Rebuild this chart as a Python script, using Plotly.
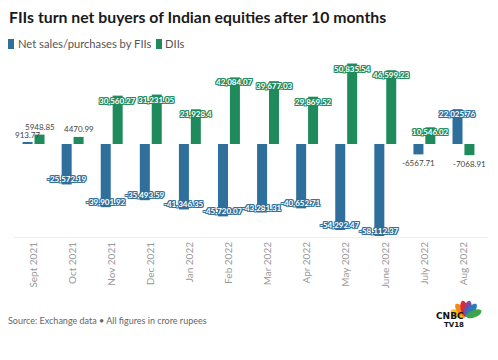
import plotly.graph_objects as go
import numpy as np

months = ["Sept 2021", "Oct 2021", "Nov 2021", "Dec 2021", "Jan 2022", "Feb 2022",
          "Mar 2022", "Apr 2022", "May 2022", "June 2022", "July 2022", "Aug 2022"]
fii = [913.77, -25572.19, -39901.92, -35493.59, -41346.35, -45720.07,
       -43281.31, -40652.71, -54292.47, -58112.37, -6567.71, 22025.76]
dii = [5948.85, 4470.99, 30560.27, 31231.05, 21928.4, 42084.07,
       39677.03, 29869.52, 50835.54, 46599.23, 10546.02, -7068.91]

BLUE = "#2f6f9c"
GREEN = "#1f8b5c"
FONT = "Lato"

W, H = 498, 360
ML, MR, MT, MB = 13, 10, 60, 123
BARGAP, GROUPGAP = 0.39, 0.16
plot_w = W - ML - MR
plot_h = H - MT - MB
slot = plot_w / len(months) * (1 - BARGAP) / 2

fig = go.Figure()
fig.add_bar(x=months, y=fii, name="Net sales/purchases by FIIs", marker_color=BLUE,
            marker_line_width=0, showlegend=False, hoverinfo="skip")
fig.add_bar(x=months, y=dii, name="DIIs", marker_color=GREEN,
            marker_line_width=0, showlegend=False, hoverinfo="skip")


def fmt(v):
    if abs(v) >= 10000:
        s = f"{v:,.2f}".rstrip("0").rstrip(".")
        return s
    return f"{v:.2f}"


def outline(c):
    return ", ".join(f"{dx}px {dy}px 0 {c}" for dx in (-1, 0, 1) for dy in (-1, 0, 1) if dx or dy)


annotations = []
for series, color, shift in ((fii, BLUE, -slot / 2), (dii, GREEN, slot / 2)):
    for m, v in zip(months, series):
        if abs(v) >= 10000:
            annotations.append(dict(
                x=m, y=v, xref="x", yref="y", text=fmt(v), showarrow=False,
                xshift=shift, yshift=-5 if v > 0 else 5, yanchor="middle",
                font=dict(family=FONT, size=8, color="white", weight="bold",
                          shadow=outline(color))))
        else:
            annotations.append(dict(
                x=m, y=v, xref="x", yref="y", text=fmt(v), showarrow=False,
                xshift=shift, yshift=1 if v > 0 else -2,
                yanchor="bottom" if v > 0 else "top",
                font=dict(family=FONT, size=8, color="#444444")))


# convert absolute pixel to paper coords (paper = plot area)
def px(xp):
    return (xp - ML) / plot_w


def py(yp):
    return (H - MB - yp) / plot_h


annotations += [
    dict(x=px(7), y=py(16), xref="paper", yref="paper", text="<b>FIIs turn net buyers of Indian equities after 10 months</b>",
         showarrow=False, xanchor="left", yanchor="middle", font=dict(family=FONT, size=15.8, color="#1a1a1a")),
    dict(x=px(16), y=py(44), xref="paper", yref="paper", text="Net sales/purchases by FIIs",
         showarrow=False, xanchor="left", yanchor="middle", font=dict(family=FONT, size=11.2, color="#555555")),
    dict(x=px(163), y=py(44), xref="paper", yref="paper", text="DIIs",
         showarrow=False, xanchor="left", yanchor="middle", font=dict(family=FONT, size=11.2, color="#555555")),
    dict(x=px(6), y=py(320), xref="paper", yref="paper", text="Source: Exchange data • All figures in crore rupees",
         showarrow=False, xanchor="left", yanchor="middle", font=dict(family=FONT, size=9, color="#666666")),
]

shapes = [
    dict(type="rect", xref="paper", yref="paper", x0=px(8), x1=px(14), y0=py(49), y1=py(39),
         fillcolor=BLUE, line_width=0),
    dict(type="rect", xref="paper", yref="paper", x0=px(156), x1=px(162), y0=py(49), y1=py(39),
         fillcolor=GREEN, line_width=0),
]

# CNBC TV18 logo (peacock)
petal_colors = ["#f7c21b", "#f28a1c", "#e3262f", "#7b4a9e", "#2a78c2", "#3aa54a"]
angles = [158, 128, 102, 78, 52, 22]
t = np.linspace(0, 2 * np.pi, 24)
for col, ang in zip(petal_colors, angles):
    a = np.radians(ang)
    cx, cy = 8.5 * np.cos(a), 8.5 * np.sin(a)
    ex, ey = 8.0 * np.cos(t), 3.6 * np.sin(t)
    xs = cx + ex * np.cos(a) - ey * np.sin(a)
    ys = cy + ex * np.sin(a) + ey * np.cos(a)
    path = "M " + " L ".join(f"{x:.2f},{y:.2f}" for x, y in zip(xs, ys)) + " Z"
    shapes.append(dict(type="path", xref="paper", yref="paper", xsizemode="pixel", ysizemode="pixel",
                       xanchor=px(466), yanchor=py(317), path=path, fillcolor=col, line_width=0))
annotations += [
    dict(x=px(466), y=py(323), xref="paper", yref="paper", text="<b>CNBC</b>", showarrow=False,
         font=dict(family="DejaVu Sans", size=9, color="#111111")),
    dict(x=px(466), y=py(330.5), xref="paper", yref="paper", text="<b>TV18</b>", showarrow=False,
         font=dict(family="DejaVu Sans", size=7, color="#111111")),
]

zero_px = 144
units_per_px = 58112.37 / (236 - zero_px)
fig.update_layout(
    width=W, height=H, margin=dict(l=ML, r=MR, t=MT, b=MB),
    paper_bgcolor="white", plot_bgcolor="white",
    barmode="group", bargap=BARGAP, bargroupgap=GROUPGAP,
    xaxis=dict(tickangle=-90, tickfont=dict(family=FONT, size=10, color="#999999"),
               showline=True, linecolor="#eeeeee", linewidth=1, showgrid=False,
               ticks="", ticklen=0),
    yaxis=dict(visible=False, range=[-(plot_h - (zero_px - MT)) * units_per_px, (zero_px - MT) * units_per_px]),
    annotations=annotations, shapes=shapes, showlegend=False,
)
fig.write_html("out.html", config={"displayModeBar": False},
               post_script="document.body.style.margin='0';")
